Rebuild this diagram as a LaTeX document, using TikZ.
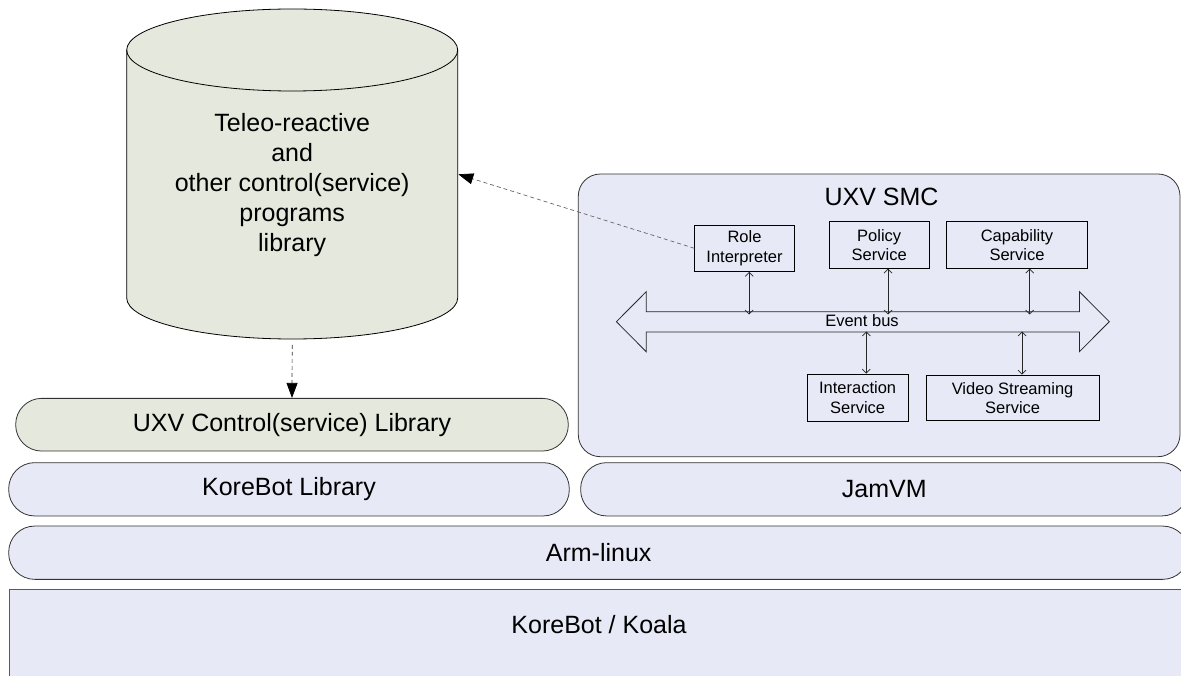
\documentclass[tikz,border=0pt]{standalone}
\usepackage{fontspec}
\setmainfont{Liberation Sans}
\usetikzlibrary{arrows.meta}
\definecolor{sage}{HTML}{E5E8DC}
\definecolor{lav}{HTML}{E7EAF6}

\begin{document}
\begin{tikzpicture}[x=1pt,y=-1pt,
  layer/.style={draw=black!80, line width=0.8pt, rounded corners=26pt, fill=lav,
    font=\fontsize{25}{30}\selectfont, inner sep=0pt},
  svc/.style={draw=black, line width=0.8pt, fill=lav, font=\fontsize{16.5}{19.5}\selectfont,
    align=center, inner sep=0pt, minimum height=46.5pt},
  bidir/.style={{Straight Barb[length=4pt,width=8pt]}-{Straight Barb[length=4pt,width=8pt]},
    line width=0.7pt, draw=black!85},
  depend/.style={dash pattern=on 4pt off 3pt, line width=0.7pt,
    -{Triangle[length=15pt,width=11pt,color=black,fill=black]}}
]
\useasboundingbox (0,0) rectangle (1181,676);
\clip (0,0) rectangle (1181,676);

% hardware base
\path[draw=black!65, line width=0.8pt, fill=lav] (9,589.3) rectangle (1195,700);
\node[font=\fontsize{25}{30}\selectfont] (koala) at (599,625) {KoreBot / Koala};

% software layers
\node[layer, minimum width=1180pt, minimum height=53.3pt] (arm) at (598.7,552.7) {Arm-linux};
\node[layer, minimum width=560.6pt, minimum height=53.3pt] (kbl) at (289,489.3) {KoreBot Library};
\node[layer, minimum width=607.3pt, minimum height=53.3pt] (jam) at (884.3,489.3) {JamVM};
\node[layer, fill=sage, minimum width=552.6pt, minimum height=52.7pt] (ctl) at (292,424.7)
  {UXV Control(service) Library};

% program library (cylinder)
\path[draw=black, line width=0.8pt, fill=sage]
  (126.7,50) -- (126.7,298)
  arc[start angle=180, end angle=0, x radius=165.5, y radius=41]
  -- (457.7,50)
  arc[start angle=0, end angle=-180, x radius=165.5, y radius=41] -- cycle;
\draw[line width=0.8pt] (126.7,50) arc[start angle=180, end angle=0, x radius=165.5, y radius=41];
\node[align=center, font=\fontsize{25}{30}\selectfont] (lib) at (292.2,185)
  {Teleo-reactive\\and\\other control(service)\\programs\\library};
\coordinate (libE) at (458.3,174.3);
\coordinate (libS) at (292.2,339.3);

% service management component
\node[draw=black!80, line width=0.8pt, fill=lav, rounded corners=22pt,
  minimum width=601.7pt, minimum height=282.7pt] (smc) at (879.15,315.35) {};
\node[font=\fontsize{25}{30}\selectfont] (smctitle) at (881.5,196.7) {UXV SMC};

% event bus
\path[draw=black!85, line width=0.8pt]
  (616.4,321.7) -- (646.2,291.7) -- (646.2,311.7) -- (1079.4,311.7) -- (1079.4,291.7)
  -- (1109.3,321.7) -- (1079.4,351.7) -- (1079.4,332) -- (646.2,332) -- (646.2,351.7) -- cycle;
\node[font=\fontsize{16.5}{19.5}\selectfont] (bus) at (862,320.7) {Event bus};
\coordinate (busT) at (0,314.5);
\coordinate (busB) at (0,331.5);

% services
\node[svc, minimum width=99.5pt] (role) at (744.5,248.3) {Role\\Interpreter};
\node[svc, minimum width=100.4pt] (policy) at (879.2,245) {Policy\\Service};
\node[svc, minimum width=141.6pt] (cap) at (1017,245) {Capability\\Service};
\node[svc, minimum width=100.7pt, minimum height=47.3pt] (inter) at (857.6,397.7) {Interaction\\Service};
\node[svc, minimum width=172.7pt, minimum height=45.7pt] (video) at (1012.6,397.9) {Video Streaming\\Service};

% bus connections
\draw[bidir] ([xshift=4.7pt]role.south) -- ([xshift=4.7pt]role.south |- busT);
\draw[bidir] ([xshift=8.8pt]policy.south) -- ([xshift=8.8pt]policy.south |- busT);
\draw[bidir] ([xshift=12.7pt]cap.south) -- ([xshift=12.7pt]cap.south |- busT);
\draw[bidir] ([xshift=8.7pt]inter.north |- busB) -- ([xshift=8.7pt]inter.north);
\draw[bidir] ([xshift=9.4pt]video.north |- busB) -- ([xshift=9.4pt]video.north);

% dependencies
\draw[depend, draw=black!60] (role.west) -- (libE);
\draw[depend, draw=black!80, shorten <=5.5pt] (libS) -- (ctl.north);
\end{tikzpicture}
\end{document}
